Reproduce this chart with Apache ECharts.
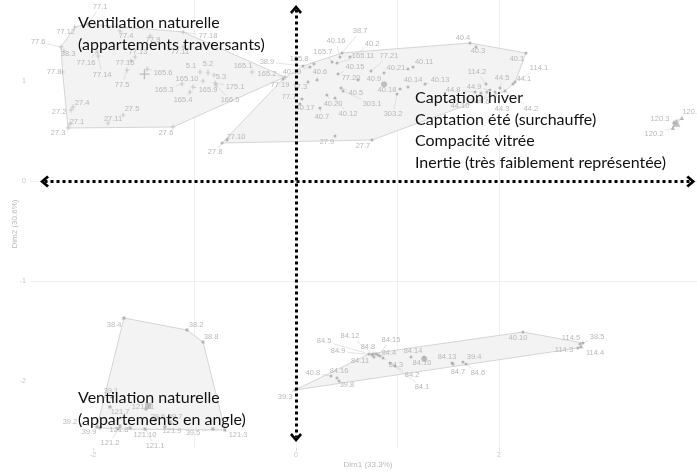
<!DOCTYPE html>
<html><head><meta charset="utf-8">
<script src="https://cdn.jsdelivr.net/npm/echarts@6/dist/echarts.min.js"></script>
<style>html,body{margin:0;padding:0;background:#fff}#c{width:697px;height:474px}</style>
</head><body><div id="c"></div>
<script>
// ---------- data (Dim1, Dim2 coordinates) ----------
// Cluster A: ventilation naturelle, appartements traversants
const namesA = ['77.1','77.12','77.6','38.3','77.16','77.8','77.14','77.4','77.9','77.13','77.15','77.5','77.11','77.18','165.6','5.1','5.2','5.3','165.1','165.2','165.10','165.3','165.9','175.1','165.4','166.5','27.4','27.2','27.1','27.3','27.5','27.11','27.6'];
const pointsA = [[-2.05,1.575],[-2.18,1.545],[-2.315,1.345],[-2.286,1.305],[-1.96,1.295],[-2.30,1.095],[-1.95,1.255],[-1.734,1.505],[-1.438,1.455],[-1.586,1.245],[-1.626,1.205],[-1.665,1.115],[-1.113,1.345],[-1.113,1.495],[-1.468,1.125],[-0.946,1.095],[-0.867,1.085],[-0.808,1.065],[-0.433,1.095],[-0.108,1.045],[-0.916,1.005],[-1.123,0.975],[-1.015,0.945],[-0.798,0.985],[-1.044,0.895],[-0.788,0.965],[-2.197,0.745],[-2.217,0.715],[-2.227,0.575],[-2.246,0.535],[-1.704,0.665],[-1.852,0.585],[-1.212,0.545]];
const labelAtA = [[-1.93,1.745],[-2.27,1.495],[-2.54,1.395],[-2.246,1.275],[-2.07,1.185],[-2.384,1.095],[-1.91,1.065],[-1.675,1.455],[-1.409,1.415],[-1.557,1.295],[-1.685,1.185],[-1.714,0.965],[-1.143,1.295],[-0.867,1.455],[-1.31,1.085],[-1.034,1.155],[-0.867,1.175],[-0.739,1.045],[-0.522,1.155],[-0.286,1.075],[-1.074,1.025],[-1.30,0.915],[-0.867,0.915],[-0.601,0.945],[-1.113,0.815],[-0.65,0.815],[-2.108,0.785],[-2.335,0.695],[-2.158,0.595],[-2.345,0.485],[-1.616,0.725],[-1.803,0.625],[-1.281,0.485]];

// Cluster C: captation / compacité / inertie
const namesC = ['77.19','27.8','27.10','38.9','165.8','40.19','38.7','40.16','40.2','165.7','165.11','77.21','40.15','40.11','40.21','40.6','40.9','77.20','40.14','40.13','40.18','303.1','303.2','40.5','77.3','77.7','40.17','40.20','40.7','40.12','40.4','40.3','40.1','114.1','44.1','114.2','44.5','44.8','44.9','44.10','44.6','44.3','44.2','27.9','27.7'];
const pointsC = [[-0.128,1.025],[-0.729,0.385],[-0.68,0.415],[0.069,1.155],[0.177,1.175],[0.138,1.145],[0.453,1.285],[0.433,1.245],[0.532,1.245],[0.355,1.195],[0.404,1.185],[0.739,1.105],[0.414,1.075],[1.153,1.145],[1.103,1.125],[0.207,1.015],[0.867,1.085],[0.611,1.015],[1.103,0.945],[1.271,0.975],[1.025,0.925],[0.463,0.905],[0.995,0.875],[0.443,0.935],[0.118,0.995],[0.059,0.825],[0.039,0.775],[0.305,0.865],[0.236,0.735],[0.384,0.835],[1.714,1.385],[1.773,1.345],[2.266,1.285],[2.158,0.995],[2.138,0.975],[1.872,0.975],[2.01,0.935],[1.764,0.895],[1.911,0.915],[1.823,0.885],[1.882,0.895],[1.961,0.895],[2.059,0.905],[0.384,0.455],[0.749,0.415]];
const labelAtC = [[-0.158,0.965],[-0.798,0.295],[-0.591,0.445],[-0.286,1.195],[0.03,1.225],[-0.039,1.095],[0.631,1.505],[0.394,1.405],[0.749,1.375],[0.266,1.295],[0.66,1.255],[0.916,1.255],[0.581,1.145],[1.261,1.195],[0.985,1.135],[0.236,1.095],[0.768,1.025],[0.542,1.035],[1.153,1.015],[1.419,1.015],[0.897,0.915],[0.749,0.775],[0.956,0.675],[0.591,0.885],[0.039,0.945],[-0.069,0.845],[0.089,0.735],[0.365,0.775],[0.256,0.645],[0.512,0.675],[1.645,1.435],[1.793,1.305],[2.177,1.225],[2.394,1.135],[2.246,1.025],[1.783,1.095],[2.03,1.035],[1.547,0.915],[1.754,0.945],[1.616,0.755],[1.833,0.795],[2.03,0.725],[2.315,0.725],[0.305,0.395],[0.66,0.355]];

// Cluster D: far right
const namesD = ['120.1','120.2','120.3'];
const pointsD = [[3.803,0.635],[3.714,0.535],[3.724,0.595]];
const labelAtD = [[3.90,0.695],[3.527,0.475],[3.586,0.625]];

// Cluster E: ventilation naturelle, appartements en angle
const namesE = ['38.4','38.2','38.8','121.3','39.2','39.1','121.7','121.11','39.6','39.7','39.9','121.8','121.10','121.9','39.5','121.2','121.1'];
const pointsE = [[-1.695,-1.365],[-1.074,-1.485],[-0.916,-1.605],[-0.70,-2.485],[-1.961,-2.455],[-1.813,-2.155],[-1.833,-2.255],[-1.478,-2.275],[-1.389,-2.385],[-1.241,-2.405],[-1.931,-2.465],[-1.734,-2.445],[-1.635,-2.465],[-1.291,-2.455],[-0.818,-2.475],[-1.754,-2.475],[-1.488,-2.475]];
const labelAtE = [[-1.793,-1.435],[-0.985,-1.435],[-0.837,-1.555],[-0.571,-2.535],[-2.227,-2.405],[-1.823,-2.095],[-1.734,-2.305],[-1.507,-2.255],[-1.36,-2.355],[-1.192,-2.355],[-2.039,-2.505],[-1.744,-2.485],[-1.488,-2.535],[-1.222,-2.495],[-1.015,-2.515],[-1.833,-2.615],[-1.389,-2.645]];

// Cluster F: bottom right
const namesF = ['39.3','40.10','38.5','114.4','114.3','114.5','40.8','84.16','39.8','84.5','84.12','84.8','84.15','84.9','84.4','84.11','84.3','84.14','84.10','84.13','39.4','84.7','84.6','84.2','84.1'];
const pointsF = [[-0.01,-2.085],[2.236,-1.505],[2.828,-1.615],[2.808,-1.655],[2.778,-1.665],[2.798,-1.625],[0.345,-1.945],[0.404,-1.965],[0.424,-1.995],[0.719,-1.725],[0.759,-1.725],[0.788,-1.725],[0.808,-1.735],[0.749,-1.735],[0.828,-1.745],[0.768,-1.755],[0.857,-1.765],[1.133,-1.755],[1.261,-1.755],[1.537,-1.815],[1.645,-1.805],[1.547,-1.825],[1.675,-1.825],[0.975,-1.845],[0.926,-1.815]];
const labelAtF = [[-0.108,-2.155],[2.187,-1.565],[2.966,-1.555],[2.946,-1.715],[2.64,-1.685],[2.709,-1.565],[0.167,-1.915],[0.424,-1.895],[0.502,-2.035],[0.276,-1.595],[0.532,-1.545],[0.709,-1.655],[0.936,-1.585],[0.414,-1.695],[0.916,-1.715],[0.631,-1.795],[0.985,-1.835],[1.153,-1.695],[1.241,-1.815],[1.488,-1.755],[1.754,-1.755],[1.596,-1.905],[1.793,-1.915],[1.143,-1.935],[1.241,-2.055]];

// axes
const xTickLabels = [-2, 0, 2];
const xGridValues = [-2, -1, 0, 1, 2, 3];
const yTickLabels = [-2, -1, 0, 1];
const xRange = [-2.621, 3.951];
const yRange = [-2.665, 1.815];
const xTitle = 'Dim1 (33.3%)';
const yTitle = 'Dim2 (30.6%)';

// annotations
const noteTopLeft = ['Ventilation naturelle', '(appartements traversants)'];
const noteRight = ['Captation hiver', 'Captation été (surchauffe)', 'Compacité vitrée', 'Inertie (très faiblement représentée)'];
const noteBottomLeft = ['Ventilation naturelle', '(appartements en angle)'];

// ---------- helpers ----------
function hull(pts) {
  const p = pts.slice().sort((a, b) => a[0] - b[0] || a[1] - b[1]);
  const cr = (o, a, b) => (a[0] - o[0]) * (b[1] - o[1]) - (a[1] - o[1]) * (b[0] - o[0]);
  const lo = [], up = [];
  for (const q of p) { while (lo.length >= 2 && cr(lo[lo.length - 2], lo[lo.length - 1], q) <= 0) lo.pop(); lo.push(q); }
  for (let i = p.length - 1; i >= 0; i--) { const q = p[i]; while (up.length >= 2 && cr(up[up.length - 2], up[up.length - 1], q) <= 0) up.pop(); up.push(q); }
  lo.pop(); up.pop();
  return lo.concat(up);
}
function mean(pts) {
  const s = pts.reduce((a, p) => [a[0] + p[0], a[1] + p[1]], [0, 0]);
  return [s[0] / pts.length, s[1] / pts.length];
}

const groups = [
  { names: namesA, pts: pointsA, lab: labelAtA, symbol: 'path://M4.3,0H5.7V4.3H10V5.7H5.7V10H4.3V5.7H0V4.3H4.3Z', size: 5 },
  { names: namesC, pts: pointsC, lab: labelAtC, symbol: 'circle', size: 3 },
  { names: namesD, pts: pointsD, lab: labelAtD, symbol: 'triangle', size: 4 },
  { names: namesE, pts: pointsE, lab: labelAtE, symbol: 'rect', size: 3 },
  { names: namesF, pts: pointsF, lab: labelAtF, symbol: 'circle', size: 3 }
];

const LABEL_FS = 7.5;
const series = [];

groups.forEach((g, gi) => {
  const h = hull(g.pts);
  series.push({
    type: 'custom', name: 'hull' + gi, z: 1, silent: true,
    data: h,
    renderItem: (params, api) => {
      if (params.dataIndex !== 0) return null;
      return {
        type: 'polygon',
        shape: { points: h.map(p => api.coord(p)) },
        style: { fill: '#f3f3f3', stroke: '#cbcbcb', lineWidth: 0.8 }
      };
    }
  });
});

const labNames = [], labData = [];
groups.forEach(g => g.names.forEach((n, i) => {
  labNames.push(n);
  labData.push([g.lab[i][0], g.lab[i][1], g.pts[i][0], g.pts[i][1]]);
}));
series.push({
  type: 'custom', name: 'labels', z: 3, silent: true,
  data: labData,
  renderItem: (params, api) => {
    const L = api.coord([api.value(0), api.value(1)]);
    const P = api.coord([api.value(2), api.value(3)]);
    const name = labNames[params.dataIndex];
    const hw = name.length * LABEL_FS * 0.27 + 1, hh = LABEL_FS * 0.5 + 1;
    const dx = L[0] - P[0], dy = L[1] - P[1];
    const children = [];
    if (Math.abs(dx) > hw || Math.abs(dy) > hh) {
      const t = Math.min(dx ? hw / Math.abs(dx) : Infinity, dy ? hh / Math.abs(dy) : Infinity);
      const E = [L[0] - dx * t, L[1] - dy * t];
      if (Math.hypot(E[0] - P[0], E[1] - P[1]) > 3) {
        children.push({ type: 'line', shape: { x1: P[0], y1: P[1], x2: E[0], y2: E[1] }, style: { stroke: '#d2d2d2', lineWidth: 0.6 } });
      }
    }
    children.push({ type: 'text', style: { text: name, x: L[0], y: L[1], align: 'center', verticalAlign: 'middle', fill: '#b8b8b8', fontSize: LABEL_FS, fontFamily: 'Liberation Sans, Arial, sans-serif' } });
    return { type: 'group', children };
  }
});

groups.forEach((g, gi) => {
  series.push({
    type: 'scatter', name: 'pts' + gi, z: 4, silent: true,
    symbol: g.symbol, symbolSize: g.size,
    itemStyle: { color: '#a6a6a6' },
    data: g.pts
  });
  series.push({
    type: 'scatter', name: 'mean' + gi, z: 4, silent: true,
    symbol: g.symbol, symbolSize: g.size * 2,
    itemStyle: { color: '#b0b0b0' },
    data: [mean(g.pts)]
  });
});

const chevron = 'path://M5,0 L10,6 L8.4,7.6 L5,3.4 L1.6,7.6 L0,6 Z';
series.push({
  type: 'scatter', name: 'axesArrows', z: 10, silent: true, symbolSize: 0, data: [],
  markLine: {
    silent: true, animation: false,
    symbol: [chevron, chevron], symbolSize: [12, 9],
    label: { show: false },
    lineStyle: { color: '#000', width: 3, type: 'dotted' },
    data: [
      [{ coord: [-2.478, 0] }, { coord: [3.89, 0] }],
      [{ coord: [0, 1.72] }, { coord: [0, -2.56] }]
    ]
  }
});

const noteFont = { fontFamily: 'Lato, "Noto Sans", sans-serif', fontSize: 16, fill: '#111', lineHeight: 21.7 };

const chart = echarts.init(document.getElementById('c'), null, { renderer: 'canvas' });
chart.setOption({
  animation: false,
  backgroundColor: '#fff',
  grid: { left: 30, right: 0, top: 0, bottom: 26, containLabel: false, outerBoundsMode: 'none' },
  xAxis: [{
    type: 'value', min: xRange[0], max: xRange[1], minInterval: 1, maxInterval: 1,
    position: 'bottom',
    axisLine: { show: false },
    axisTick: { show: false, customValues: xGridValues },
    axisLabel: { show: false },
    splitLine: { show: true, showMinLine: false, showMaxLine: false, lineStyle: { color: '#f0f0f0', width: 1 } }
  }, {
    type: 'value', min: xRange[0], max: xRange[1], minInterval: 1, maxInterval: 1,
    position: 'bottom',
    axisLine: { show: false },
    axisTick: { show: true, length: 3, customValues: xTickLabels, lineStyle: { color: '#d6d6d6', width: 0.8 } },
    axisLabel: { show: true, customValues: xTickLabels, margin: 4, fontSize: 7, color: '#c6c6c6', fontFamily: 'Liberation Sans, Arial, sans-serif',
      formatter: v => (xTickLabels.indexOf(v) >= 0 ? String(v) : '') },
    splitLine: { show: false },
    name: xTitle, nameLocation: 'middle', nameGap: 13, nameMoveOverlap: false,
    nameTextStyle: { color: '#b9b9b9', fontSize: 8, fontFamily: 'Liberation Sans, Arial, sans-serif', padding: [0, 0, 0, 9] }
  }],
  yAxis: {
    type: 'value', min: yRange[0], max: yRange[1], minInterval: 1, maxInterval: 1,
    axisLine: { show: false },
    axisTick: { show: true, length: 3, customValues: yTickLabels, lineStyle: { color: '#d6d6d6', width: 0.8 } },
    axisLabel: { show: true, customValues: yTickLabels, margin: 4, fontSize: 7, color: '#c6c6c6', fontFamily: 'Liberation Sans, Arial, sans-serif',
      formatter: v => (yTickLabels.indexOf(v) >= 0 ? String(v) : '') },
    splitLine: { show: true, showMinLine: false, showMaxLine: false, lineStyle: { color: '#f0f0f0', width: 1 } },
    name: yTitle, nameLocation: 'middle', nameGap: 11, nameMoveOverlap: false,
    nameTextStyle: { color: '#b9b9b9', fontSize: 8, fontFamily: 'Liberation Sans, Arial, sans-serif' }
  },
  series: series,
  graphic: [
    { type: 'text', left: 78, top: 12, z: 100, silent: true, style: Object.assign({ text: noteTopLeft.join('\n') }, noteFont) },
    { type: 'text', left: 415, top: 87, z: 100, silent: true, style: Object.assign({ text: noteRight.join('\n') }, noteFont) },
    { type: 'text', left: 78, top: 387, z: 100, silent: true, style: Object.assign({ text: noteBottomLeft.join('\n') }, noteFont) }
  ]
});
</script>
</body></html>
